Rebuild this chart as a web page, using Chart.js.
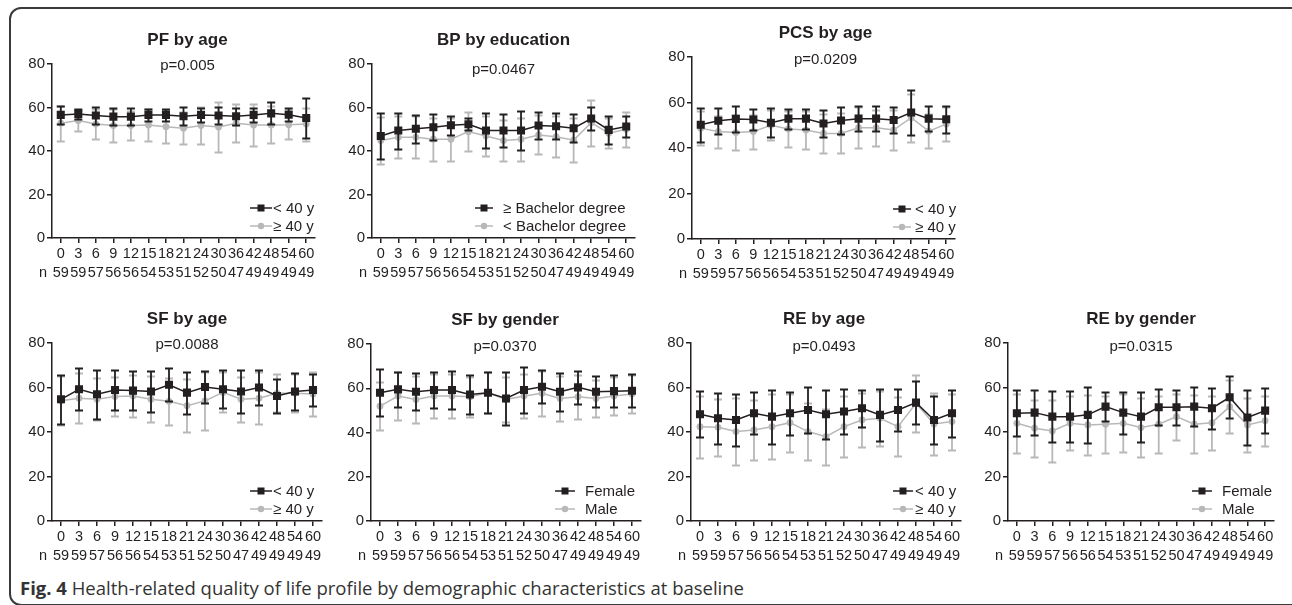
<!DOCTYPE html>
<html>
<head>
<meta charset="utf-8">
<script src="https://cdn.jsdelivr.net/npm/chart.js@4.4.0/dist/chart.umd.min.js"></script>
<style>
body { margin: 0; background: #fff; }
#page { position: relative; width: 1292px; height: 605px; overflow: hidden; background: #fff; }
.frame { position: absolute; left: 9px; top: 7px; width: 1290px; height: 595px; border: 2px solid #3a3a3a; border-radius: 12px; }
canvas { position: absolute; }
.caption { position: absolute; left: 20px; top: 575px; font-family: 'Open Sans', sans-serif; font-size: 18.5px; color: #333; white-space: nowrap; }
.caption b { font-weight: 700; }
</style>
</head>
<body>
<div id="page">
  <div class="frame"></div>
  <div class="caption"><b>Fig. 4</b> Health-related quality of life profile by demographic characteristics at baseline</div>
</div>
<script>
// months of follow-up and patients per visit
const months = ['0', '3', '6', '9', '12', '15', '18', '21', '24', '30', '36', '42', '48', '54', '60'];
const nCounts = [59, 59, 57, 56, 56, 54, 53, 51, 52, 50, 47, 49, 49, 49, 49];

// PF by age
const pfYoung = [56.6, 57.0, 56.3, 55.8, 55.8, 56.6, 56.6, 56.0, 56.6, 56.3, 56.0, 56.6, 57.3, 56.7, 55.2];
const pfYoungSd = [4.0, 2.5, 4.0, 4.0, 4.0, 2.7, 2.8, 4.2, 3.3, 4.0, 4.0, 3.3, 5.0, 3.0, 9.0];
const pfOld = [52.8, 54.0, 52.4, 51.7, 51.7, 52.0, 51.2, 50.5, 51.7, 51.0, 52.8, 52.0, 52.0, 52.1, 52.4];
const pfOldSd = [8.0, 5.0, 7.0, 7.5, 6.5, 7.5, 7.5, 7.5, 8.7, 11.5, 8.8, 9.8, 8.5, 6.6, 7.6];

// BP by education
const bpHigh = [46.9, 49.4, 50.2, 50.9, 51.8, 52.3, 49.4, 49.4, 49.4, 51.7, 51.4, 50.5, 54.9, 49.7, 51.3];
const bpHighSd = [10.8, 8.3, 6.5, 6.0, 4.4, 2.7, 8.0, 7.7, 8.8, 6.2, 6.0, 6.5, 5.2, 6.6, 5.0];
const bpLow = [44.8, 46.3, 46.3, 45.4, 45.4, 48.9, 46.9, 44.8, 45.4, 47.4, 46.6, 45.0, 53.0, 48.2, 50.0];
const bpLowSd = [10.8, 9.6, 9.6, 10.0, 10.0, 9.0, 9.0, 9.6, 10.0, 9.0, 9.5, 10.0, 10.5, 7.0, 8.0];

// PCS by age
const pcsYoung = [50.2, 52.0, 52.8, 52.5, 51.1, 52.9, 52.9, 50.8, 52.1, 52.9, 52.9, 52.3, 55.6, 52.9, 52.6];
const pcsYoungSd = [7.4, 5.8, 5.8, 4.6, 6.4, 4.4, 4.4, 5.8, 6.1, 5.4, 5.4, 5.9, 10.0, 5.5, 6.0];
const pcsOld = [48.7, 47.2, 46.8, 47.2, 50.0, 48.4, 47.9, 46.4, 46.4, 48.9, 48.9, 47.9, 53.3, 47.4, 50.5];
const pcsOldSd = [7.5, 7.0, 7.8, 7.5, 6.7, 8.0, 8.3, 8.5, 8.8, 9.0, 8.0, 8.7, 10.5, 7.5, 7.5];

// SF by age
const sfYoung = [54.7, 59.2, 57.0, 58.9, 58.6, 58.2, 61.2, 57.7, 60.2, 59.2, 58.2, 60.0, 56.2, 58.2, 58.9];
const sfYoungSd = [11.0, 9.5, 11.0, 8.9, 8.7, 9.0, 7.4, 9.4, 7.1, 8.6, 9.8, 7.9, 7.5, 8.1, 7.0];
const sfOld = [54.0, 55.2, 54.7, 55.9, 56.2, 54.7, 53.8, 51.8, 54.0, 57.8, 54.7, 55.2, 57.4, 57.4, 57.1];
const sfOldSd = [11.0, 11.3, 9.5, 8.9, 9.5, 10.3, 10.5, 12.0, 13.0, 9.0, 10.0, 11.8, 8.5, 8.6, 9.8];

// SF by gender
const sfFemale = [58.0, 59.5, 58.4, 59.2, 59.2, 57.2, 58.0, 55.4, 59.2, 60.7, 58.4, 60.4, 58.4, 58.7, 58.9];
const sfFemaleSd = [10.5, 7.9, 8.3, 8.2, 8.7, 9.0, 9.4, 12.0, 10.3, 7.5, 8.6, 7.3, 7.0, 7.2, 7.4];
const sfMale = [51.9, 56.5, 54.9, 56.5, 56.5, 56.2, 58.0, 54.9, 56.5, 57.7, 55.4, 56.2, 55.4, 56.5, 57.4];
const sfMaleSd = [10.9, 10.8, 10.8, 9.8, 10.0, 9.0, 9.4, 10.0, 9.8, 10.2, 10.0, 10.0, 8.3, 8.7, 8.6];

// RE by age
const reYoung = [48.0, 46.2, 45.4, 48.4, 46.9, 48.4, 49.9, 48.0, 49.2, 50.7, 47.7, 49.9, 53.2, 45.4, 48.4];
const reYoungSd = [10.3, 11.4, 11.8, 9.5, 12.2, 9.8, 10.2, 11.0, 10.0, 8.4, 11.8, 9.4, 9.5, 10.7, 10.7];
const reOld = [42.4, 42.1, 40.2, 40.9, 42.4, 44.2, 40.2, 37.9, 42.4, 45.4, 46.2, 42.4, 52.9, 43.6, 44.7];
const reOldSd = [13.9, 12.9, 15.0, 13.4, 14.6, 13.0, 13.0, 12.6, 13.7, 12.2, 12.4, 13.4, 12.8, 13.9, 12.6];

// RE by gender
const reFemale = [48.4, 48.7, 46.9, 46.9, 47.7, 51.4, 48.7, 46.9, 51.1, 51.1, 51.4, 50.7, 55.6, 46.5, 49.6];
const reFemaleSd = [10.4, 10.0, 11.5, 11.5, 12.5, 6.5, 9.5, 11.3, 8.1, 7.9, 8.9, 9.2, 9.5, 12.3, 10.0];
const reMale = [43.9, 41.7, 40.5, 43.9, 43.2, 43.5, 43.9, 42.0, 43.5, 46.9, 43.5, 44.2, 51.4, 43.2, 45.1];
const reMaleSd = [13.4, 12.8, 13.9, 12.2, 13.5, 12.8, 13.0, 13.1, 12.9, 10.3, 13.0, 12.2, 11.8, 12.0, 11.3];

const yTicks = [0, 20, 40, 60, 80];

const DARK = '#231f20';
const GREY = '#b8b8b8';
const FONT = 'Liberation Sans, Arial, Helvetica, sans-serif';

const PAD_L = 45, PAD_T = 48, PAD_R = 25, AXIS_H = 48;

// error bars drawn under each dataset
const errorBars = {
    id: 'errorBars',
    beforeDatasetDraw(chart, args) {
        const ds = chart.data.datasets[args.index];
        if (!ds.sd) return;
        const y = chart.scales.y;
        const ctx = chart.ctx;
        ctx.save();
        ctx.strokeStyle = ds.borderColor;
        ctx.lineWidth = 1.8;
        args.meta.data.forEach((pt, i) => {
            const v = ds.data[i], s = ds.sd[i];
            const top = Math.round(y.getPixelForValue(v + s)) + 0.5;
            const bot = Math.round(y.getPixelForValue(v - s)) + 0.5;
            ctx.beginPath();
            ctx.moveTo(pt.x, top); ctx.lineTo(pt.x, bot);
            ctx.moveTo(pt.x - 4, top); ctx.lineTo(pt.x + 4, top);
            ctx.moveTo(pt.x - 4, bot); ctx.lineTo(pt.x + 4, bot);
            ctx.stroke();
        });
        ctx.restore();
    }
};

// title, p-value, legend and the "n" row label
const panelText = {
    id: 'panelText',
    afterDraw(chart, args, opts) {
        const ctx = chart.ctx;
        const a = chart.chartArea;
        const cx = (a.left + a.right) / 2;
        ctx.save();
        ctx.fillStyle = DARK;
        ctx.textAlign = 'center';
        ctx.textBaseline = 'middle';
        ctx.font = 'bold 17px ' + FONT;
        ctx.fillText(opts.title, cx + opts.titleDx, a.top - 24);
        ctx.font = '15px ' + FONT;
        ctx.fillText(opts.p, cx + opts.titleDx, a.top + opts.pDy);
        ctx.font = '14.5px ' + FONT;
        ctx.fillText('n', a.left - 9, a.bottom + 35);

        // legend
        ctx.font = '15px ' + FONT;
        ctx.textAlign = 'left';
        const tx = a.right + opts.legX;
        chart.data.datasets.forEach((ds, i) => {
            const ly = a.bottom - 30 + i * 18;
            const x1 = tx - opts.legGap, x0 = x1 - opts.legLen;
            ctx.strokeStyle = ds.borderColor;
            ctx.lineWidth = 1.5;
            ctx.beginPath();
            ctx.moveTo(x0, ly); ctx.lineTo(x1, ly);
            ctx.stroke();
            ctx.fillStyle = ds.borderColor;
            const mx = (x0 + x1) / 2;
            if (ds.pointStyle === 'rect') {
                ctx.fillRect(mx - 3.5, ly - 3.5, 7, 7);
            } else {
                ctx.beginPath();
                ctx.arc(mx, ly, 3.2, 0, Math.PI * 2);
                ctx.fill();
            }
            ctx.fillStyle = DARK;
            ctx.fillText(ds.label, tx, ly + 1);
        });
        ctx.restore();
    }
};

function series(label, data, sd, color, style) {
    return {
        label: label,
        data: data,
        sd: sd,
        borderColor: color,
        backgroundColor: color,
        borderWidth: 1.5,
        pointStyle: style,
        pointRadius: style === 'rect' ? 5.7 : 3.4,
        pointBorderWidth: 0,
        tension: 0
    };
}

function makePanel(box, text, darkSet, greySet) {
    const page = document.getElementById('page');
    const cv = document.createElement('canvas');
    const w = (box.r - box.l) + PAD_L + PAD_R;
    const h = (box.b - box.t) + PAD_T + AXIS_H;
    cv.width = w; cv.height = h;
    cv.style.left = (box.l - PAD_L) + 'px';
    cv.style.top = (box.t - PAD_T) + 'px';
    cv.style.width = w + 'px';
    cv.style.height = h + 'px';
    page.appendChild(cv);

    new Chart(cv.getContext('2d'), {
        type: 'line',
        data: {
            labels: months,
            datasets: [
                series(darkSet[0], darkSet[1], darkSet[2], DARK, 'rect'),
                series(greySet[0], greySet[1], greySet[2], GREY, 'circle')
            ]
        },
        options: {
            responsive: false,
            animation: false,
            devicePixelRatio: 1,
            layout: { padding: { left: PAD_L - 40, top: PAD_T, right: PAD_R, bottom: 0 } },
            plugins: {
                legend: { display: false },
                tooltip: { enabled: false },
                panelText: text
            },
            scales: {
                x: {
                    type: 'category',
                    offset: true,
                    afterFit: s => { s.height = AXIS_H; },
                    grid: { display: true, drawOnChartArea: false, drawTicks: true, tickLength: 5, offset: false, color: DARK, lineWidth: 1.5 },
                    border: { display: true, color: DARK, width: 1.5 },
                    ticks: {
                        autoSkip: false,
                        maxRotation: 0,
                        padding: 1,
                        color: DARK,
                        font: { family: FONT, size: 14.5, lineHeight: '19px' },
                        callback: (v, i) => [months[i], String(nCounts[i])]
                    }
                },
                y: {
                    min: 0,
                    max: 80,
                    afterFit: s => { s.width = 40; },
                    afterBuildTicks: s => { s.ticks = yTicks.map(v => ({ value: v })); },
                    grid: { display: true, drawOnChartArea: false, drawTicks: true, tickLength: 5, color: DARK, lineWidth: 1.5 },
                    border: { display: true, color: DARK, width: 1.5 },
                    ticks: { padding: 2, color: DARK, font: { family: FONT, size: 15 } }
                }
            }
        },
        plugins: [errorBars, panelText]
    });
}

const ageLabels = ['< 40 y', '\u2265 40 y'];

makePanel({ l: 52, r: 315, t: 63.5, b: 238 },
    { title: 'PF by age', p: 'p=0.005', titleDx: 4, pDy: 2, legX: -42, legGap: 1, legLen: 22 },
    [ageLabels[0], pfYoung, pfYoungSd], [ageLabels[1], pfOld, pfOldSd]);

makePanel({ l: 372, r: 635, t: 64, b: 238 },
    { title: 'BP by education', p: 'p=0.0467', titleDx: 0, pDy: 6, legX: -132, legGap: 10, legLen: 18 },
    ['\u2265 Bachelor degree', bpHigh, bpHighSd], ['< Bachelor degree', bpLow, bpLowSd]);

makePanel({ l: 692, r: 955, t: 57, b: 239 },
    { title: 'PCS by age', p: 'p=0.0209', titleDx: 2, pDy: 3, legX: -40, legGap: 4, legLen: 18 },
    [ageLabels[0], pcsYoung, pcsYoungSd], [ageLabels[1], pcsOld, pcsOldSd]);

makePanel({ l: 52, r: 322, t: 343, b: 521 },
    { title: 'SF by age', p: 'p=0.0088', titleDx: 0, pDy: 2, legX: -49, legGap: 1, legLen: 22 },
    [ageLabels[0], sfYoung, sfYoungSd], [ageLabels[1], sfOld, sfOldSd]);

makePanel({ l: 371, r: 641, t: 344, b: 521 },
    { title: 'SF by gender', p: 'p=0.0370', titleDx: -1, pDy: 3, legX: -56, legGap: 10, legLen: 20 },
    ['Female', sfFemale, sfFemaleSd], ['Male', sfMale, sfMaleSd]);

makePanel({ l: 691, r: 961, t: 343, b: 521 },
    { title: 'RE by age', p: 'p=0.0493', titleDx: -2, pDy: 4, legX: -46, legGap: 2, legLen: 20 },
    [ageLabels[0], reYoung, reYoungSd], [ageLabels[1], reOld, reOldSd]);

makePanel({ l: 1008, r: 1274, t: 343, b: 521 },
    { title: 'RE by gender', p: 'p=0.0315', titleDx: 0, pDy: 4, legX: -52, legGap: 10, legLen: 20 },
    ['Female', reFemale, reFemaleSd], ['Male', reMale, reMaleSd]);
</script>
</body>
</html>
